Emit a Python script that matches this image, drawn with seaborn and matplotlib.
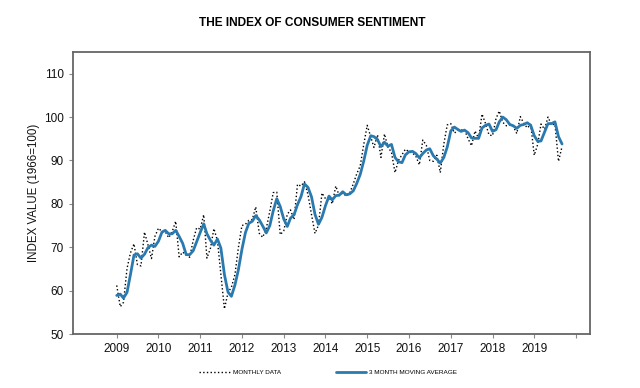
import pandas as pd
import numpy as np
import matplotlib
matplotlib.use("Agg")
import matplotlib.pyplot as plt
import matplotlib.dates as mdates
import seaborn as sns

# monthly index values, Jan 2009 - Sep 2019
monthly = [
    61.2, 56.3, 57.3, 65.1, 68.7, 70.8, 66.0, 65.7, 73.5, 70.6, 67.4, 72.5,
    74.4, 73.6, 73.6, 72.2, 73.6, 76.0, 67.8, 68.9, 68.2, 67.7, 71.6, 74.5,
    74.2, 77.5, 67.5, 69.8, 74.3, 71.5, 63.7, 55.8, 59.5, 60.8, 63.7, 69.9,
    75.0, 75.3, 76.2, 76.4, 79.3, 73.2, 72.3, 74.3, 78.3, 82.6, 82.7, 72.9,
    73.8, 77.6, 78.6, 76.4, 84.5, 84.1, 85.1, 82.1, 77.5, 73.2, 75.1, 82.5,
    81.2, 81.6, 80.0, 84.1, 81.9, 82.5, 81.8, 82.5, 84.6, 86.9, 88.8, 93.6,
    98.1, 95.4, 93.0, 95.9, 90.7, 96.1, 93.1, 91.9, 87.2, 90.0, 91.3, 92.6,
    92.0, 91.7, 91.0, 89.0, 94.7, 93.5, 90.0, 89.8, 91.2, 87.2, 93.8, 98.2,
    98.5, 96.3, 96.9, 97.0, 97.1, 95.0, 93.4, 96.8, 95.1, 100.7, 98.5, 95.9,
    95.7, 99.7, 101.4, 98.8, 98.0, 98.2, 97.9, 96.2, 100.1, 98.6, 97.5, 98.3,
    91.2, 93.8, 98.4, 97.2, 100.0, 98.2, 98.4, 89.8, 93.2,
]

# 3 month moving average, same months
moving_avg = [
    58.9, 59.2, 58.3, 59.6, 63.7, 68.2, 68.5, 67.5, 68.4, 69.9, 70.5, 70.2,
    71.4, 73.5, 73.9, 73.1, 73.1, 73.9, 72.5, 70.9, 68.3, 68.3, 69.2, 71.3,
    73.4, 75.4, 73.1, 71.6, 70.5, 71.9, 69.8, 63.7, 59.7, 58.7, 61.3, 64.8,
    69.5, 73.4, 75.5, 76.0, 77.3, 76.3, 74.9, 73.3, 75.0, 78.4, 81.2, 79.4,
    76.5, 74.8, 76.7, 77.5, 79.8, 81.7, 84.6, 83.8, 81.6, 77.6, 75.3, 76.9,
    79.6, 81.8, 80.9, 81.9, 82.0, 82.8, 82.1, 82.3, 83.0, 84.7, 86.8, 89.8,
    93.5, 95.7, 95.5, 94.8, 93.2, 94.2, 93.3, 93.7, 90.7, 89.7, 89.5, 91.3,
    92.0, 92.1, 91.6, 90.6, 91.6, 92.4, 92.7, 91.1, 90.3, 89.4, 90.7, 93.1,
    96.8, 97.7, 97.2, 96.7, 97.0, 96.4, 95.2, 95.1, 95.1, 97.5, 98.1, 98.4,
    96.7, 97.1, 98.9, 100.0, 99.4, 98.3, 98.0, 97.4, 98.1, 98.3, 98.7, 98.1,
    95.7, 94.4, 94.5, 96.5, 98.5, 98.5, 98.9, 95.5, 93.8,
]

years = list(range(2009, 2021))
year_labels = [str(y) for y in years[:-1]] + [""]

months = pd.date_range("2009-01-01", periods=len(monthly), freq="MS")
df = pd.DataFrame({"date": months, "monthly": monthly, "avg": moving_avg})

sns.set_style("ticks")
plt.rcParams["font.family"] = ["Liberation Sans", "DejaVu Sans"]
plt.rcParams["text.color"] = "black"

fig = plt.figure(figsize=(6.4, 3.88), dpi=100)
ax = fig.add_axes([0.1136, 0.139, 0.808, 0.727])

sns.lineplot(data=df, x="date", y="monthly", ax=ax, color="black",
             linestyle=":", linewidth=1.0, label="MONTHLY DATA")
sns.lineplot(data=df, x="date", y="avg", ax=ax, color="#2a7ab0",
             linewidth=2.0, label="3 MONTH MOVING AVERAGE")

ax.set_ylim(50, 115)
ax.set_yticks(range(50, 111, 10))
ax.set_xlim(pd.Timestamp("2007-12-13"), pd.Timestamp("2020-05-01"))
ax.set_xticks([pd.Timestamp(f"{y}-01-01") for y in years])
ax.set_xticklabels(year_labels)
ax.tick_params(labelsize=8.5, length=3, color="#888888", width=0.8,
               labelcolor="#111111")
ax.set_xlabel("")
ax.set_ylabel("INDEX VALUE (1966=100)", fontsize=8.3, labelpad=3,
              color="#111111")
for s in ax.spines.values():
    s.set_color("#666666")
    s.set_linewidth(1.3)

fig.text(0.488, 0.94, "THE INDEX OF CONSUMER SENTIMENT", ha="center",
         va="center", fontsize=8.6, fontweight="bold", color="black")

ax.legend(loc="center", bbox_to_anchor=(0.513, 0.041),
          bbox_transform=fig.transFigure, ncol=2, frameon=False,
          fontsize=4.6, handlelength=4.8, columnspacing=8.5,
          handletextpad=0.5)

fig.savefig("out.png", dpi=100)
